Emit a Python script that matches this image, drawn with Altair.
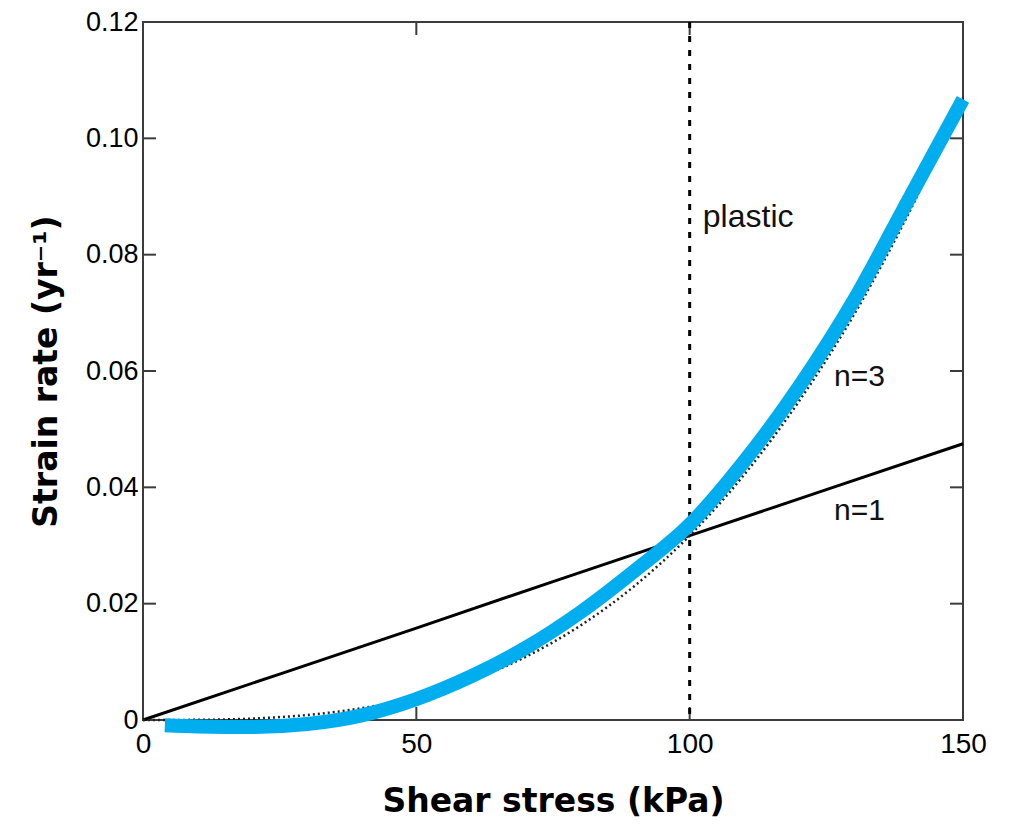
import altair as alt
import pandas as pd

# n = 1 (linear) flow law
stress_linear = [0, 25, 50, 75, 100, 125, 150]
rate_linear = [0.0, 0.0079, 0.0158, 0.0238, 0.0317, 0.0396, 0.0475]

# n = 3 (dotted) flow law
stress_cubic = [0, 10, 20, 30, 40, 50, 60, 70, 80, 90, 100, 110, 120, 130, 140, 150]
rate_cubic = [0.0, 0.00003, 0.00025, 0.00086, 0.00203, 0.00396, 0.00685, 0.01087,
              0.01623, 0.02311, 0.0317, 0.0422, 0.0548, 0.0696, 0.0870, 0.1070]

# thick blue curve
stress_fit = [4, 10, 20, 30, 40, 50, 60, 70, 80, 90, 100, 110, 120, 130, 140, 150]
rate_fit = [-0.0009, -0.0011, -0.0012, -0.0007, 0.0008, 0.0036, 0.0075, 0.0124,
            0.0185, 0.0257, 0.0336, 0.0445, 0.0573, 0.0721, 0.0894, 0.1067]

plastic_stress = [100]

x_ticks = [0, 50, 100, 150]
y_ticks = [0, 0.02, 0.04, 0.06, 0.08, 0.10, 0.12]

label_text = ["plastic", "n=3", "n=1"]
label_stress = [102.4, 126.4, 126.4]
label_rate = [0.0847, 0.0574, 0.0343]
label_size = [32, 30, 30]

df_lin = pd.DataFrame({"stress": stress_linear, "rate": rate_linear})
df_cub = pd.DataFrame({"stress": stress_cubic, "rate": rate_cubic})
df_fit = pd.DataFrame({"stress": stress_fit, "rate": rate_fit})
df_plastic = pd.DataFrame({"stress": plastic_stress})
df_lab = pd.DataFrame({"stress": label_stress, "rate": label_rate, "text": label_text,
                       "size": label_size})
df_xt = pd.DataFrame({"stress": [v for v in x_ticks if 0 < v < 150]})
df_yt = pd.DataFrame({"rate": [v for v in y_ticks if 0 < v < 0.12]})

W, H = 820, 698
FRAME = "#3c3c3c"

xs = alt.Scale(domain=[0, 150], nice=False, zero=False)
ys = alt.Scale(domain=[0, 0.12], nice=False, zero=False)

x_axis = alt.Axis(
    values=x_ticks, title="Shear stress (kPa)", ticks=False, domain=False, grid=False,
    labelFontSize=28, labelFont="Liberation Sans", labelColor="black", labelPadding=10,
    labelFlush=False, labelOverlap=False, format="d",
    titleFont="DejaVu Sans", titleFontSize=33, titleFontWeight="bold", titleColor="black",
    titlePadding=27,
)
y_axis = alt.Axis(
    values=y_ticks, title="Strain rate (yr⁻¹)", ticks=False, domain=False, grid=False,
    labelFontSize=27, labelFont="Liberation Sans", labelColor="black", labelPadding=5,
    labelFlush=False, labelOverlap=False,
    labelExpr="datum.value == 0 ? '0' : format(datum.value, '.2f')",
    titleFont="DejaVu Sans", titleFontSize=33, titleFontWeight="bold", titleColor="black",
    titlePadding=22,
)

X = alt.X("stress:Q", scale=xs, axis=x_axis)
Y = alt.Y("rate:Q", scale=ys, axis=y_axis)

plastic = alt.Chart(df_plastic).mark_rule(color="black", strokeWidth=3, strokeDash=[6, 8]).encode(x=X)
lin = alt.Chart(df_lin).mark_line(color="black", strokeWidth=3).encode(x=X, y=Y)
cub = alt.Chart(df_cub).mark_line(color="#222222", strokeWidth=2.5, strokeDash=[2, 3],
                                  interpolate="monotone").encode(x=X, y=Y)
fit = alt.Chart(df_fit).mark_line(color="#00aeef", strokeWidth=14,
                                  interpolate="monotone").encode(x=X, y=Y)
labels = alt.Chart(df_lab).mark_text(align="left", baseline="alphabetic", font="Liberation Sans",
                                     color="#111111").encode(
    x=X, y=Y, text="text:N", size=alt.Size("size:Q", scale=None, legend=None))

tick_len = 13
xt_bottom = alt.Chart(df_xt).mark_rule(color=FRAME, strokeWidth=2).encode(
    x=X, y=alt.value(H), y2=alt.value(H - tick_len))
xt_top = alt.Chart(df_xt).mark_rule(color=FRAME, strokeWidth=2).encode(
    x=X, y=alt.value(0), y2=alt.value(tick_len))
yt_left = alt.Chart(df_yt).mark_rule(color=FRAME, strokeWidth=2).encode(
    y=Y, x=alt.value(0), x2=alt.value(tick_len))
yt_right = alt.Chart(df_yt).mark_rule(color=FRAME, strokeWidth=2).encode(
    y=Y, x=alt.value(W), x2=alt.value(W - tick_len))

chart = alt.layer(
    xt_bottom, xt_top, yt_left, yt_right, plastic, lin, cub, fit, labels
).properties(
    width=W, height=H,
    autosize=alt.AutoSizeParams(type="none"),
    padding={"left": 135, "top": 14, "right": 46, "bottom": 98},
    background="white",
).configure_view(stroke=FRAME, strokeWidth=2)

chart.save("out.html", embed_options={"renderer": "svg", "actions": False})
